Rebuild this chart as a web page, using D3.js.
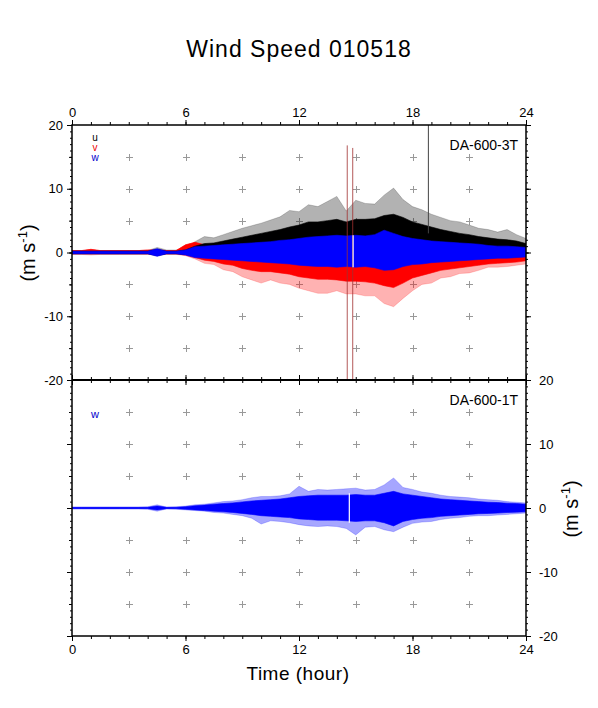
<!DOCTYPE html>
<html>
<head>
<meta charset="utf-8">
<script src="https://cdn.jsdelivr.net/npm/d3@7"></script>
<style>
  body { margin: 0; background: #fff; }
  svg text { font-family: "Liberation Sans", Arial, sans-serif; }
</style>
</head>
<body>
<div id="chart"></div>
<script>
'use strict';

// time of each envelope sample (hour), every half hour
var hours = d3.range(0, 24.01, 0.5)

// DA-600-3T, u (black): upper extremes, dense core top, lower edge
var uHi = [0.3, 0.3, 0.3, 0.3, 0.3, 0.3, 0.3, 0.3, 0.3, 0.8, 0.4, 0.4, 0.6, 1.7, 2.5, 2.3, 2.8, 3.3, 3.8, 4.2, 4.6, 5.1, 5.6, 6.6, 6.4,
    7.5, 7.2, 8.0, 8.8, 6.5, 8.2, 7.7, 7.6, 9.0, 10.1, 8.3, 7.2, 6.7, 6.0, 5.5, 5.0, 4.8, 4.3, 3.8, 3.6, 3.2, 3.6, 2.8, 2.2]
var uCore = [0.2, 0.2, 0.2, 0.2, 0.2, 0.2, 0.2, 0.2, 0.2, 0.5, 0.2, 0.2, 0.4, 1.0, 1.4, 1.5, 1.8, 2.1, 2.4, 2.7, 3.0, 3.3, 3.6, 4.0, 4.3,
    4.8, 4.8, 5.0, 5.2, 4.8, 5.2, 5.2, 5.3, 5.8, 6.0, 5.5, 4.8, 4.4, 4.0, 3.6, 3.3, 3.0, 2.8, 2.5, 2.3, 2.1, 2.0, 1.8, 1.4]
var uLo = [-0.2, -0.2, -0.2, -0.2, -0.2, -0.2, -0.2, -0.2, -0.2, -0.5, -0.2, -0.2, -0.3, -0.5, -0.6, -0.7, -0.8, -0.9, -1.0, -1.0, -1.1, -1.2, -1.3, -1.4, -1.5,
    -1.6, -1.6, -1.7, -1.7, -1.7, -1.7, -1.7, -1.8, -1.9, -2.0, -1.8, -1.6, -1.5, -1.4, -1.3, -1.2, -1.1, -1.0, -0.9, -0.8, -0.8, -0.7, -0.7, -0.6]

// DA-600-3T, v (red)
var vLo = [-0.3, -0.3, -0.4, -0.3, -0.3, -0.3, -0.3, -0.3, -0.3, -0.4, -0.3, -0.3, -0.5, -1.0, -1.7, -1.9, -2.7, -3.0, -3.8, -4.3, -4.8, -4.3, -4.8, -5.0, -5.6,
    -6.0, -6.4, -6.4, -6.0, -6.5, -6.5, -6.8, -6.8, -8.0, -8.5, -7.2, -6.0, -5.0, -4.8, -4.0, -3.8, -3.3, -3.2, -2.8, -2.3, -2.3, -2.2, -2.0, -1.8]
var vCore = [-0.2, -0.2, -0.2, -0.2, -0.2, -0.2, -0.2, -0.2, -0.2, -0.2, -0.2, -0.2, -0.4, -0.8, -1.2, -1.4, -1.8, -2.0, -2.5, -2.8, -3.0, -3.0, -3.2, -3.4, -3.8,
    -4.0, -4.2, -4.2, -4.3, -4.5, -4.5, -4.6, -4.8, -5.2, -5.5, -4.8, -4.0, -3.6, -3.2, -2.8, -2.6, -2.4, -2.2, -2.0, -1.8, -1.7, -1.6, -1.5, -1.3]
var vHi = [0.3, 0.3, 0.5, 0.3, 0.3, 0.3, 0.3, 0.3, 0.4, 0.4, 0.3, 0.3, 1.2, 1.6, 1.2, 1.3, 1.5, 1.6, 1.7, 1.8, 1.9, 2.0, 2.2, 2.3, 2.5,
    2.7, 2.8, 2.9, 3.0, 2.9, 3.0, 2.9, 3.1, 3.8, 3.3, 2.8, 2.5, 2.3, 2.1, 2.0, 1.9, 1.8, 1.7, 1.6, 1.4, 1.3, 1.3, 1.2, 1.1]

// DA-600-3T, w (blue)
var wHi = [0.2, 0.2, 0.2, 0.2, 0.2, 0.2, 0.2, 0.2, 0.2, 0.6, 0.2, 0.2, 0.4, 0.9, 1.0, 1.1, 1.2, 1.3, 1.4, 1.5, 1.6, 1.7, 1.9, 2.0, 2.2,
    2.4, 2.5, 2.6, 2.7, 2.6, 2.7, 2.6, 2.8, 3.5, 3.0, 2.5, 2.2, 2.0, 1.8, 1.7, 1.6, 1.5, 1.4, 1.3, 1.1, 1.0, 1.0, 0.9, 0.8]
var wLo = [-0.2, -0.2, -0.2, -0.2, -0.2, -0.2, -0.2, -0.2, -0.2, -0.6, -0.2, -0.2, -0.4, -0.8, -0.9, -1.0, -1.1, -1.2, -1.3, -1.4, -1.5, -1.6, -1.7, -1.8, -2.0,
    -2.1, -2.2, -2.2, -2.3, -2.2, -2.3, -2.2, -2.4, -2.8, -2.7, -2.2, -1.9, -1.8, -1.6, -1.5, -1.4, -1.3, -1.2, -1.1, -1.0, -0.9, -0.9, -0.8, -0.7]

// DA-600-1T, w (blue)
var w1Hi = [0.15, 0.15, 0.15, 0.15, 0.15, 0.15, 0.15, 0.15, 0.2, 0.5, 0.15, 0.2, 0.3, 0.5, 0.6, 0.8, 1.0, 1.1, 1.3, 1.6, 1.8, 1.8, 1.9, 2.2, 3.4,
    2.6, 2.9, 2.8, 2.9, 3.0, 3.1, 2.8, 2.9, 3.6, 4.7, 3.2, 2.9, 2.5, 2.3, 2.0, 1.8, 1.7, 1.6, 1.4, 1.3, 1.2, 1.0, 0.9, 0.8]
var w1CoreHi = [0.1, 0.1, 0.1, 0.1, 0.1, 0.1, 0.1, 0.1, 0.1, 0.3, 0.1, 0.1, 0.2, 0.35, 0.45, 0.6, 0.7, 0.8, 0.95, 1.1, 1.2, 1.3, 1.4, 1.6, 1.8,
    1.9, 2.0, 2.0, 2.0, 2.0, 2.1, 2.0, 2.0, 2.3, 2.6, 2.2, 2.0, 1.8, 1.6, 1.4, 1.3, 1.2, 1.1, 1.0, 0.9, 0.85, 0.75, 0.7, 0.6]
var w1CoreLo = [-0.1, -0.1, -0.1, -0.1, -0.1, -0.1, -0.1, -0.1, -0.1, -0.3, -0.1, -0.1, -0.2, -0.3, -0.4, -0.5, -0.6, -0.7, -0.85, -1.0, -1.2, -1.3, -1.4, -1.5, -1.7,
    -1.8, -1.9, -1.9, -1.9, -2.0, -2.1, -2.0, -2.0, -2.3, -2.8, -2.1, -1.8, -1.6, -1.5, -1.3, -1.2, -1.1, -1.0, -0.9, -0.85, -0.8, -0.7, -0.65, -0.6]
var w1Lo = [-0.15, -0.15, -0.15, -0.15, -0.15, -0.15, -0.15, -0.15, -0.2, -0.5, -0.15, -0.2, -0.3, -0.4, -0.5, -0.7, -0.8, -1.0, -1.2, -1.6, -2.5, -2.0, -2.1, -2.3, -2.6,
    -2.8, -2.9, -2.8, -2.9, -3.2, -4.2, -3.0, -2.9, -3.4, -3.7, -3.0, -2.4, -2.2, -2.1, -1.8, -1.6, -1.5, -1.3, -1.2, -1.2, -1.1, -1.0, -0.9, -0.8]

// isolated spikes in DA-600-3T: hour, from, to
var spikeV = [[14.55, 16.8, -20], [14.84, 16.4, -20]]
var spikeU = [[18.84, 20, 3]]
// data gaps (white lines)
var gapTop = [14.86]
var gapBottom = [14.66]

var xTicks = [0, 6, 12, 18, 24]
var yTicks = [20, 10, 0, -10, -20]
var crossX = [3, 6, 9, 12, 15, 18, 21]
var crossY = [15, 10, 5, -5, -10, -15]

var width = 598, height = 708
var padding = { left: 72, right: 526, top: 125, mid: 380, bottom: 636 }

var svg = d3.select('#chart').append('svg').attr('width', width).attr('height', height)

var xScale = d3.scaleLinear().domain([0, 24]).range([padding.left, padding.right])
var yTop = d3.scaleLinear().domain([-20, 20]).range([padding.mid, padding.top])
var yBot = d3.scaleLinear().domain([-20, 20]).range([padding.bottom, padding.mid])

svg.append('text')
    .attr('x', 299).attr('y', 57)
    .attr('text-anchor', 'middle')
    .style('font-size', '23px')
    .style('letter-spacing', '1px')
    .text('Wind Speed 010518')

function panel(yScale, clipId) {
    var g = svg.append('g')
    svg.append('clipPath').attr('id', clipId).append('rect')
        .attr('x', padding.left).attr('y', yScale(20))
        .attr('width', padding.right - padding.left).attr('height', yScale(-20) - yScale(20))

    // grey crosses
    var cross = g.append('g').attr('stroke', '#999').attr('stroke-width', 1)
    crossX.forEach(function(cx) {
        crossY.forEach(function(cy) {
            var px = Math.round(xScale(cx)) + 0.5, py = Math.round(yScale(cy)) + 0.5
            cross.append('line').attr('x1', px - 3.5).attr('x2', px + 3.5).attr('y1', py).attr('y2', py)
            cross.append('line').attr('x1', px).attr('x2', px).attr('y1', py - 3.5).attr('y2', py + 3.5)
        })
    })
    var data = g.append('g').attr('clip-path', 'url(#' + clipId + ')')
    return data
}

function band(g, yScale, lo, hi, color, op) {
    var area = d3.area()
        .x(function(d, i) { return xScale(hours[i]) })
        .y0(function(d, i) { return yScale(lo[i]) })
        .y1(function(d, i) { return yScale(hi[i]) })
    g.append('path').datum(hours).attr('d', area)
        .style('fill', color).style('fill-opacity', op)
        .style('stroke', color).style('stroke-opacity', op).style('stroke-width', 0.6)
}

var topData = panel(yTop, 'clipTop')
var botData = panel(yBot, 'clipBot')

// top panel series
band(topData, yTop, uLo, uHi, '#000', 0.3)
band(topData, yTop, vLo, vHi, '#f00', 0.3)
band(topData, yTop, vCore, vHi, '#f00', 1)
band(topData, yTop, uLo, uCore, '#000', 1)
band(topData, yTop, wLo, wHi, '#00f', 1)

spikeV.forEach(function(s) {
    topData.append('line')
        .attr('x1', xScale(s[0])).attr('x2', xScale(s[0]))
        .attr('y1', yTop(s[1])).attr('y2', yTop(s[2]))
        .style('stroke', '#a03030').style('stroke-width', 1).style('stroke-opacity', 0.8)
})
spikeU.forEach(function(s) {
    topData.append('line')
        .attr('x1', xScale(s[0])).attr('x2', xScale(s[0]))
        .attr('y1', yTop(s[1])).attr('y2', yTop(s[2]))
        .style('stroke', '#444').style('stroke-width', 1)
})
gapTop.forEach(function(h) {
    topData.append('line')
        .attr('x1', xScale(h)).attr('x2', xScale(h))
        .attr('y1', yTop(2.7)).attr('y2', yTop(-2.3))
        .style('stroke', '#fff').style('stroke-width', 1.2)
})

// bottom panel series
band(botData, yBot, w1Lo, w1Hi, '#00f', 0.35)
band(botData, yBot, w1CoreLo, w1CoreHi, '#00f', 1)
gapBottom.forEach(function(h) {
    botData.append('line')
        .attr('x1', xScale(h)).attr('x2', xScale(h))
        .attr('y1', yBot(2.3)).attr('y2', yBot(-2.3))
        .style('stroke', '#fff').style('stroke-width', 1.2)
})

// axes
function axis(gen, tx, ty, labels) {
    var g = svg.append('g').attr('transform', 'translate(' + tx + ',' + ty + ')').call(gen.tickFormat(function(d) { return String(d) }))
    g.select('.domain').remove()
    g.selectAll('.tick line').style('stroke', '#000')
    g.selectAll('.tick text').style('font-size', '13px').style('font-family', '"Liberation Sans", Arial, sans-serif').style('fill', '#000')
    if (!labels) g.selectAll('.tick text').remove()
    return g
}
var hourAll = d3.range(0, 25, 1)
var unitAll = d3.range(-20, 21, 1)

// minor and major ticks on x
;[padding.top, padding.mid, padding.bottom].forEach(function(py, k) {
    if (k != 2) {
        axis(d3.axisTop(xScale).tickValues(hourAll).tickSize(3), 0, py, false)
        axis(d3.axisTop(xScale).tickValues(xTicks).tickSize(5).tickPadding(3), 0, py, k == 0)
    }
    if (k != 0) {
        axis(d3.axisBottom(xScale).tickValues(hourAll).tickSize(3), 0, py, false)
        axis(d3.axisBottom(xScale).tickValues(xTicks).tickSize(5).tickPadding(4), 0, py, k == 2)
    }
})

// y ticks for both panels
;[[yTop, true], [yBot, false]].forEach(function(p) {
    var ys = p[0]
    axis(d3.axisLeft(ys).tickValues(unitAll).tickSize(2), padding.left, 0, false)
    axis(d3.axisLeft(ys).tickValues(d3.range(-20, 21, 5)).tickSize(3), padding.left, 0, false)
    axis(d3.axisLeft(ys).tickValues(yTicks).tickSize(5).tickPadding(4), padding.left, 0, p[1])
    axis(d3.axisRight(ys).tickValues(unitAll).tickSize(2), padding.right, 0, false)
    axis(d3.axisRight(ys).tickValues(d3.range(-20, 21, 5)).tickSize(3), padding.right, 0, false)
    axis(d3.axisRight(ys).tickValues(yTicks).tickSize(5).tickPadding(8), padding.right, 0, !p[1])
})

// frames
svg.append('rect')
    .attr('x', padding.left).attr('y', padding.top)
    .attr('width', padding.right - padding.left).attr('height', padding.bottom - padding.top)
    .style('fill', 'none').style('stroke', '#000').style('stroke-width', 1.5)
svg.append('line')
    .attr('x1', padding.left).attr('x2', padding.right).attr('y1', padding.mid).attr('y2', padding.mid)
    .style('stroke', '#000').style('stroke-width', 2)

// legends and station names
var leg = [['u', '#000', 141], ['v', '#e00', 151], ['w', '#00c', 161]]
leg.forEach(function(l) {
    svg.append('text').attr('x', 95).attr('y', l[2]).attr('text-anchor', 'middle')
        .style('font-size', '10px').style('fill', l[1]).text(l[0])
})
svg.append('text').attr('x', 95).attr('y', 418).attr('text-anchor', 'middle')
    .style('font-size', '11px').style('fill', '#00c').text('w')

svg.append('text').attr('x', 518).attr('y', 150).attr('text-anchor', 'end')
    .style('font-size', '14px').text('DA-600-3T')
svg.append('text').attr('x', 518).attr('y', 405).attr('text-anchor', 'end')
    .style('font-size', '14px').text('DA-600-1T')

// axis titles
function unitLabel(x, y) {
    var t = svg.append('text')
        .attr('transform', 'translate(' + x + ',' + y + ') rotate(-90)')
        .attr('text-anchor', 'middle')
        .style('font-size', '20px')
    t.append('tspan').text('(m s')
    t.append('tspan').attr('dy', -8).style('font-size', '13px').text('-1')
    t.append('tspan').attr('dy', 8).text(')')
}
unitLabel(35, 253)
unitLabel(578, 509)

svg.append('text')
    .attr('x', 298).attr('y', 680)
    .attr('text-anchor', 'middle')
    .style('font-size', '19px')
    .style('letter-spacing', '0.5px')
    .text('Time (hour)')
</script>
</body>
</html>
